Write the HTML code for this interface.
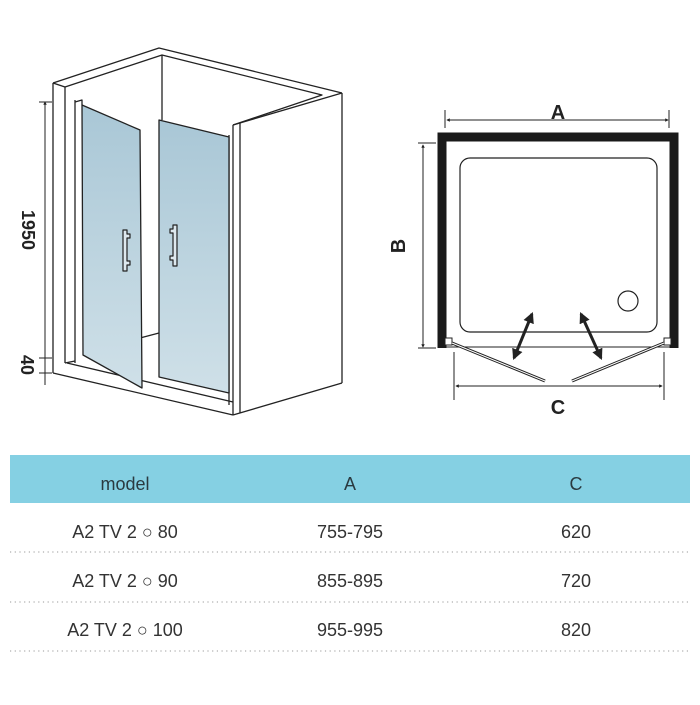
<!DOCTYPE html>
<html><head><meta charset="utf-8"><style>
body{margin:0;background:#fff;width:700px;height:700px;overflow:hidden;font-family:"Liberation Sans",sans-serif}
</style></head><body>
<svg width="700" height="700" viewBox="0 0 700 700" xmlns="http://www.w3.org/2000/svg">
<defs>
<linearGradient id="g" x1="0" y1="0" x2="0" y2="1"><stop offset="0" stop-color="#a9c7d6"/><stop offset="1" stop-color="#cfe0e8"/></linearGradient>
<marker id="ah" viewBox="0 0 10 10" refX="8" refY="5" markerUnits="userSpaceOnUse" markerWidth="11" markerHeight="11" orient="auto-start-reverse"><path d="M0,0 L10,5 L0,10 z" fill="#222"/></marker>
<marker id="bh" viewBox="0 0 10 10" refX="8" refY="5" markerWidth="3.5" markerHeight="3.5" orient="auto-start-reverse"><path d="M0,0 L10,5 L0,10 z" fill="#222"/></marker>
</defs>
<g stroke="#222" stroke-width="1.3" fill="none" stroke-linejoin="round">
<polyline points="53,83 159,48 342,93"/>
<polyline points="65,87 162,55 322,95 233,125"/>
<line x1="53" y1="83" x2="65" y2="87"/>
<line x1="162" y1="55" x2="162" y2="120"/>
<line x1="53" y1="83" x2="53" y2="373"/>
<line x1="65" y1="87" x2="65" y2="363"/>
<polyline points="75,102 82,100 82,105" />
<line x1="75" y1="100" x2="75" y2="363"/>
<line x1="53" y1="373" x2="233" y2="415"/>
<line x1="67" y1="363" x2="233" y2="402"/>
<line x1="65" y1="363" x2="75" y2="361"/>
<line x1="140" y1="338" x2="159" y2="333"/>
<line x1="233" y1="125" x2="342" y2="93"/>
<line x1="240" y1="123" x2="240" y2="413"/>
<line x1="233" y1="125" x2="233" y2="415"/>
<line x1="342" y1="93" x2="342" y2="383"/>
<line x1="233" y1="415" x2="342" y2="383"/>
<line x1="229" y1="135" x2="229" y2="405"/>
<polygon points="82,105 140,130 142,388 83,355" fill="url(#g)"/>
<polygon points="159,120 229,137 229,393 159,377" fill="url(#g)"/>
<path d="M123,230 h4 v4 h3 v4 h-3 v23 h3 v4 h-3 v6 h-4 z" fill="#dde8ee" stroke-width="1.2"/>
<path d="M177,225 h-4 v4 h-3 v4 h3 v23 h-3 v4 h3 v6 h4 z" fill="#dde8ee" stroke-width="1.2"/>
</g>
<g stroke="#222" stroke-width="1">
<line x1="45" y1="102" x2="45" y2="385" marker-start="url(#bh)"/>
<line x1="39" y1="102" x2="52" y2="102"/>
<line x1="39" y1="358" x2="52" y2="358"/>
<line x1="39" y1="373" x2="52" y2="373"/>
</g>
<text transform="translate(22,230) rotate(90)" font-size="18" font-weight="bold" fill="#222" text-anchor="middle">1950</text>
<text transform="translate(21,365) rotate(90)" font-size="18" font-weight="bold" fill="#222" text-anchor="middle">40</text>

<g stroke="#222" fill="none">
<path d="M442,348 V137 H674 V348" stroke-width="9" stroke="#1a1a1a"/>
<line x1="446" y1="347" x2="670" y2="347" stroke-width="1"/>
<rect x="460" y="158" width="197" height="174" rx="10" stroke-width="1.2"/>
<circle cx="628" cy="301" r="10" stroke-width="1.2"/>
<rect x="445" y="338" width="7" height="7" fill="#fff" stroke-width="1"/>
<rect x="664" y="338" width="7" height="7" fill="#fff" stroke-width="1"/>
<line x1="452" y1="343" x2="545" y2="381" stroke-width="3"/>
<line x1="452" y1="343" x2="545" y2="381" stroke-width="1" stroke="#fff"/>
<line x1="664" y1="343" x2="572" y2="381" stroke-width="3"/>
<line x1="664" y1="343" x2="572" y2="381" stroke-width="1" stroke="#fff"/>
<line x1="532" y1="314" x2="514" y2="358" stroke-width="3" marker-start="url(#ah)" marker-end="url(#ah)"/>
<line x1="581" y1="314" x2="601" y2="358" stroke-width="3" marker-start="url(#ah)" marker-end="url(#ah)"/>
<g stroke-width="1">
<line x1="447" y1="120" x2="668" y2="120" marker-start="url(#bh)" marker-end="url(#bh)"/>
<line x1="445" y1="110" x2="445" y2="128"/><line x1="669" y1="110" x2="669" y2="128"/>
<line x1="423" y1="145" x2="423" y2="347" marker-start="url(#bh)" marker-end="url(#bh)"/>
<line x1="418" y1="143" x2="436" y2="143"/><line x1="418" y1="348" x2="436" y2="348"/>
<line x1="456" y1="386" x2="662" y2="386" marker-start="url(#bh)" marker-end="url(#bh)"/>
<line x1="454" y1="352" x2="454" y2="400"/><line x1="664" y1="352" x2="664" y2="400"/>
</g>
</g>
<text x="558" y="119" font-size="20" font-weight="bold" fill="#222" text-anchor="middle">A</text>
<text x="558" y="414" font-size="20" font-weight="bold" fill="#222" text-anchor="middle">C</text>
<text transform="translate(405,246) rotate(-90)" font-size="20" font-weight="bold" fill="#222" text-anchor="middle">B</text>

<rect x="10" y="455" width="680" height="48" fill="#85d0e3"/>
<g font-size="18" fill="#2a3a40" text-anchor="middle">
<text x="125" y="490">model</text><text x="350" y="490">A</text><text x="576" y="490">C</text>
</g>
<g font-size="18" fill="#333" text-anchor="middle">
<text x="125" y="538">A2 TV 2 ○ 80</text><text x="350" y="538">755-795</text><text x="576" y="538">620</text>
<text x="125" y="587">A2 TV 2 ○ 90</text><text x="350" y="587">855-895</text><text x="576" y="587">720</text>
<text x="125" y="636">A2 TV 2 ○ 100</text><text x="350" y="636">955-995</text><text x="576" y="636">820</text>
</g>
<g stroke="#999" stroke-width="1" stroke-dasharray="1.2 3.5">
<line x1="10" y1="552" x2="690" y2="552"/><line x1="10" y1="602" x2="690" y2="602"/><line x1="10" y1="651" x2="690" y2="651"/>
</g>
</svg>
</body></html>
